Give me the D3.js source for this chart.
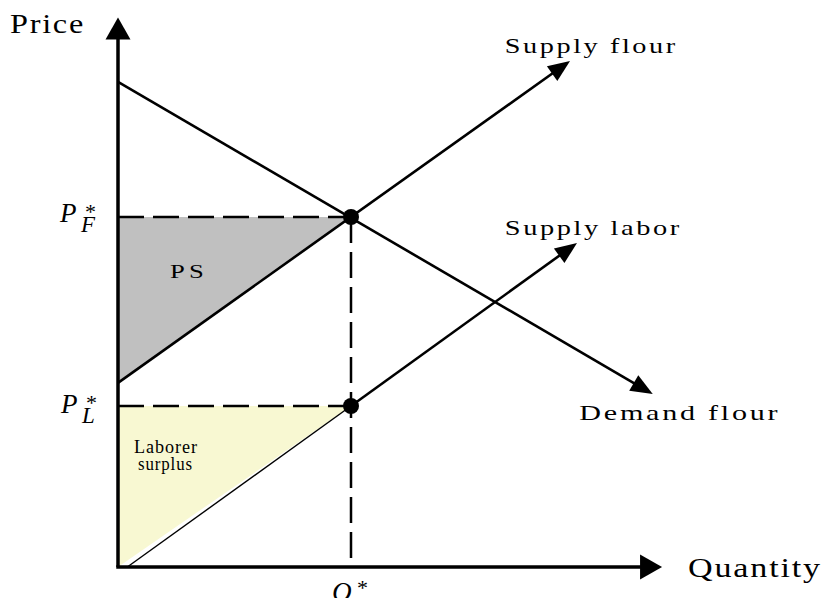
<!DOCTYPE html>
<html>
<head>
<meta charset="utf-8">
<script src="https://cdn.jsdelivr.net/npm/d3@7"></script>
<style>
  body { margin: 0; background: #fff; }
  text { font-family: "Liberation Serif", "DejaVu Serif", serif; fill: #000; }
</style>
</head>
<body>
<div id="chart"></div>
<script>
// equilibrium values (data units)
const qStar = 100;
const pFlour = 100;
const pLabor = 46;

// curves, as [quantity, price] end points
const demandFlour = [[0, 138.6], [229.5, 49.4]];
const supplyFlour = [[0, 52.6], [194, 144.6]];
const supplyLabor = [[100, 46], [197, 92.6]];

// axis extents
const xMax = 233.5;
const yMax = 157;

const curveLabels = [
  {text: "Supply flour", at: [166, 147], len: 173},
  {text: "Supply labor", at: [166, 95], len: 177},
  {text: "Demand flour", at: [198, 42], len: 201}
];

const width = 826, height = 598;

const svg = d3.select("#chart")
  .append("svg")
  .attr("width", width)
  .attr("height", height);

const x = d3.scaleLinear().domain([0, 100]).range([118, 351]);
const y = d3.scaleLinear().domain([0, 100]).range([567, 217]);

// arrow head polygon at (x2,y2) pointing away from (x1,y1)
function arrowHead(x1, y1, x2, y2, len, half) {
  const a = Math.atan2(y2 - y1, x2 - x1);
  const bx = x2 - len * Math.cos(a), by = y2 - len * Math.sin(a);
  const px = -Math.sin(a) * half, py = Math.cos(a) * half;
  return [[x2, y2], [bx + px, by + py], [bx - px, by - py]];
}

// text stretched to the reference width (wide serif look)
function label(tx, ty, str, size, len, spacing) {
  return svg.append("text").attr("x", tx).attr("y", ty)
    .attr("font-size", size)
    .attr("letter-spacing", spacing)
    .attr("textLength", len)
    .attr("lengthAdjust", "spacingAndGlyphs")
    .text(str);
}

// surplus areas
svg.append("path")
  .attr("d", d3.line()([[x(0), y(pFlour)], [x(qStar), y(pFlour)], [x(0), y(supplyFlour[0][1])]]) + "Z")
  .attr("fill", "#c0c0c0");

svg.append("path")
  .attr("d", d3.line()([[x(0), y(pLabor)], [x(qStar), y(pLabor)], [x(0), y(0)]]) + "Z")
  .attr("fill", "#f8f8d2");

svg.append("line")
  .attr("x1", x(4)).attr("y1", y(0))
  .attr("x2", x(qStar)).attr("y2", y(pLabor))
  .attr("stroke", "#000").attr("stroke-width", 1.4);

// dashed guides
const dash = "26,9";
svg.append("line")
  .attr("x1", x(0)).attr("y1", y(pFlour)).attr("x2", x(qStar)).attr("y2", y(pFlour))
  .attr("stroke", "#000").attr("stroke-width", 2.5).attr("stroke-dasharray", dash);
svg.append("line")
  .attr("x1", x(0)).attr("y1", y(pLabor)).attr("x2", x(qStar)).attr("y2", y(pLabor))
  .attr("stroke", "#000").attr("stroke-width", 2.5).attr("stroke-dasharray", dash);
svg.append("line")
  .attr("x1", x(qStar)).attr("y1", y(pFlour)).attr("x2", x(qStar)).attr("y2", y(0))
  .attr("stroke", "#000").attr("stroke-width", 2.5).attr("stroke-dasharray", dash);

// curves with arrow heads
[demandFlour, supplyFlour, supplyLabor].forEach(function(c) {
  const x1 = x(c[0][0]), y1 = y(c[0][1]), x2 = x(c[1][0]), y2 = y(c[1][1]);
  const a = Math.atan2(y2 - y1, x2 - x1);
  svg.append("line")
    .attr("x1", x1).attr("y1", y1)
    .attr("x2", x2 - 8 * Math.cos(a)).attr("y2", y2 - 8 * Math.sin(a))
    .attr("stroke", "#000").attr("stroke-width", 2.6);
  svg.append("path")
    .attr("d", d3.line()(arrowHead(x1, y1, x2, y2, 22, 9)) + "Z")
    .attr("fill", "#000");
});

// axes
svg.append("line")
  .attr("x1", x(0)).attr("y1", y(0)).attr("x2", x(0)).attr("y2", y(yMax) + 10)
  .attr("stroke", "#000").attr("stroke-width", 3.5);
svg.append("path")
  .attr("d", d3.line()(arrowHead(x(0), y(0), x(0), y(yMax), 22, 12.5)) + "Z")
  .attr("fill", "#000");
svg.append("line")
  .attr("x1", x(0) - 1.75).attr("y1", y(0)).attr("x2", x(xMax) - 10).attr("y2", y(0))
  .attr("stroke", "#000").attr("stroke-width", 3.5);
svg.append("path")
  .attr("d", d3.line()(arrowHead(x(0), y(0), x(xMax), y(0), 22, 12.5)) + "Z")
  .attr("fill", "#000");

// equilibrium dots
svg.selectAll("circle.eq")
  .data([[qStar, pFlour], [qStar, pLabor]])
  .enter()
  .append("circle")
    .attr("cx", d => x(d[0]))
    .attr("cy", d => y(d[1]))
    .attr("r", 8)
    .attr("fill", "#000");

// axis titles
label(10, 33, "Price", 28, 75, 1.5);
label(688, 577, "Quantity", 28, 134, 1.5);

// curve labels
curveLabels.forEach(function(d) {
  label(x(d.at[0]), y(d.at[1]), d.text, 22, d.len, 2);
});

// price / quantity markers: main letter, star above right, subscript below right
function starLabel(px, py, main, sub, starDy) {
  svg.append("text").attr("x", px).attr("y", py)
    .attr("font-size", 27).attr("font-style", "italic").text(main);
  svg.append("text").attr("x", px + 25).attr("y", py + starDy)
    .attr("font-size", 22).text("*");
  if (sub) {
    svg.append("text").attr("x", px + 21).attr("y", py + 10)
      .attr("font-size", 23).attr("font-style", "italic").text(sub);
  }
}
starLabel(60, y(pFlour) + 5, "P", "F", -3);
starLabel(61, y(pLabor) + 7, "P", "L", -3);
starLabel(332, 601, "Q", null, -6);

// surplus labels
label(170, 278, "PS", 19, 38, 3);
label(134, 453, "Laborer", 19, 64, 1);
label(138, 470, "surplus", 19, 55, 1);
</script>
</body>
</html>
